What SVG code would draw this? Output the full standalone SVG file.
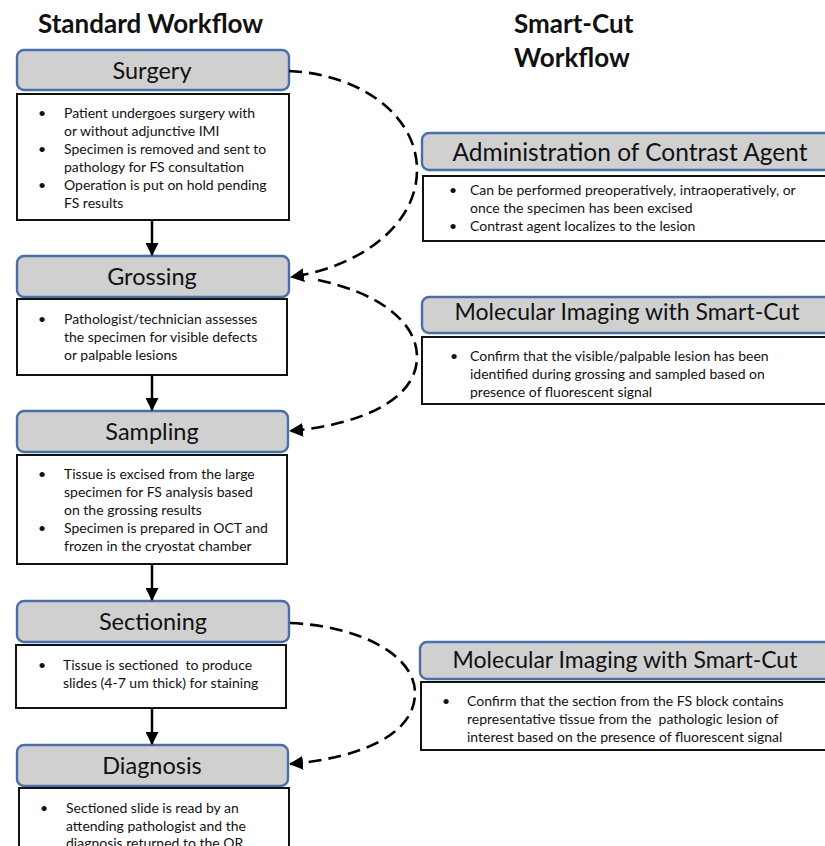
<svg xmlns="http://www.w3.org/2000/svg" width="825" height="846" viewBox="0 0 825 846">
<defs>
<style>
.title{font-family:Lato,"Liberation Sans",sans-serif;font-weight:bold;font-size:26px;fill:#111}
.hdr{fill:#d0d0d0;stroke:#4a6ea9;stroke-width:2.4}
.hdrt{font-family:Lato,"Liberation Sans",sans-serif;font-size:23.5px;fill:#111;text-anchor:middle}
.body{fill:#fff;stroke:#111;stroke-width:2}
.bt{font-family:Lato,"Liberation Sans",sans-serif;font-size:14px;fill:#111}
.flow{stroke:#000;stroke-width:2.5;fill:none}
.dash{stroke:#000;stroke-width:2.6;fill:none;stroke-dasharray:13 7}
</style>
<marker id="ah" viewBox="0 0 12 12" refX="11" refY="6" markerWidth="13" markerHeight="13" markerUnits="userSpaceOnUse" orient="auto">
<path d="M0,0 L12,6 L0,12 Z" fill="#000"/>
</marker>
<marker id="ah2" viewBox="0 0 14 14" refX="13" refY="7" markerWidth="14" markerHeight="14" markerUnits="userSpaceOnUse" orient="auto">
<path d="M0,0 L14,7 L0,14 Z" fill="#000"/>
</marker>
</defs>

<text class="title" x="38" y="33">Standard Workflow</text>
<text class="title" x="514" y="33">Smart-Cut</text>
<text class="title" x="514" y="67">Workflow</text>

<g id="surgery">
<rect class="hdr" x="17" y="50" width="272" height="40" rx="7"/>
<text class="hdrt" x="152" y="79">Surgery</text>
<rect class="body" x="17" y="94" width="272" height="126"/>
<text class="bt"><tspan x="38" y="118">•</tspan><tspan x="64" y="118">Patient undergoes surgery with</tspan><tspan x="64" y="136">or without adjunctive IMI</tspan><tspan x="38" y="154">•</tspan><tspan x="64" y="154">Specimen is removed and sent to</tspan><tspan x="64" y="172">pathology for FS consultation</tspan><tspan x="38" y="190">•</tspan><tspan x="64" y="190">Operation is put on hold pending</tspan><tspan x="64" y="208">FS results</tspan></text>
</g>

<g id="grossing">
<rect class="hdr" x="17" y="256" width="272" height="41" rx="7"/>
<text class="hdrt" x="152" y="285">Grossing</text>
<rect class="body" x="17" y="299" width="270" height="76"/>
<text class="bt"><tspan x="38" y="324">•</tspan><tspan x="64" y="324">Pathologist/technician assesses</tspan><tspan x="64" y="342">the specimen for visible defects</tspan><tspan x="64" y="360">or palpable lesions</tspan></text>
</g>

<g id="sampling">
<rect class="hdr" x="17" y="411" width="271" height="41" rx="7"/>
<text class="hdrt" x="152" y="440">Sampling</text>
<rect class="body" x="17" y="455" width="270" height="109"/>
<text class="bt"><tspan x="38" y="479">•</tspan><tspan x="64" y="479">Tissue is excised from the large</tspan><tspan x="64" y="497">specimen for FS analysis based</tspan><tspan x="64" y="515">on the grossing results</tspan><tspan x="38" y="533">•</tspan><tspan x="64" y="533">Specimen is prepared in OCT and</tspan><tspan x="64" y="551">frozen in the cryostat chamber</tspan></text>
</g>

<g id="sectioning">
<rect class="hdr" x="17" y="601" width="272" height="41" rx="7"/>
<text class="hdrt" x="153" y="630">Sectioning</text>
<rect class="body" x="16" y="645" width="270" height="63"/>
<text class="bt" xml:space="preserve"><tspan x="38" y="670">•</tspan><tspan x="63" y="670">Tissue is sectioned  to produce</tspan><tspan x="63" y="688">slides (4-7 um thick) for staining</tspan></text>
</g>

<g id="diagnosis">
<rect class="hdr" x="17" y="745" width="271" height="41" rx="7"/>
<text class="hdrt" x="152" y="774">Diagnosis</text>
<rect class="body" x="19" y="788" width="270" height="70"/>
<text class="bt"><tspan x="40" y="813">•</tspan><tspan x="66" y="813">Sectioned slide is read by an</tspan><tspan x="66" y="831">attending pathologist and the</tspan><tspan x="66" y="848">diagnosis returned to the OR</tspan></text>
</g>

<g id="contrast">
<rect class="hdr" x="422" y="133" width="420" height="37" rx="7"/>
<text class="hdrt" x="630" y="161" style="font-size:24.5px">Administration of Contrast Agent</text>
<rect class="body" x="423" y="176" width="420" height="65"/>
<text class="bt"><tspan x="449" y="195">•</tspan><tspan x="470" y="195">Can be performed preoperatively, intraoperatively, or</tspan><tspan x="470" y="213">once the specimen has been excised</tspan><tspan x="449" y="231">•</tspan><tspan x="470" y="231">Contrast agent localizes to the lesion</tspan></text>
</g>

<g id="imaging1">
<rect class="hdr" x="422" y="297" width="420" height="36" rx="7"/>
<text class="hdrt" x="627" y="320" style="font-size:23px">Molecular Imaging with Smart-Cut</text>
<rect class="body" x="422" y="337" width="420" height="67"/>
<text class="bt"><tspan x="450" y="361">•</tspan><tspan x="470" y="361">Confirm that the visible/palpable lesion has been</tspan><tspan x="470" y="379">identified during grossing and sampled based on</tspan><tspan x="470" y="397">presence of fluorescent signal</tspan></text>
</g>

<g id="imaging2">
<rect class="hdr" x="420" y="642" width="420" height="37" rx="7"/>
<text class="hdrt" x="625" y="668" style="font-size:23px">Molecular Imaging with Smart-Cut</text>
<rect class="body" x="421" y="682" width="420" height="68"/>
<text class="bt" xml:space="preserve"><tspan x="442" y="706">•</tspan><tspan x="467" y="706">Confirm that the section from the FS block contains</tspan><tspan x="467" y="724">representative tissue from the  pathologic lesion of</tspan><tspan x="467" y="742">interest based on the presence of fluorescent signal</tspan></text>
</g>

<g id="connectors">
<line class="flow" x1="152" y1="220" x2="152" y2="255" marker-end="url(#ah)"/>
<line class="flow" x1="152" y1="375" x2="152" y2="410" marker-end="url(#ah)"/>
<line class="flow" x1="152" y1="564" x2="152" y2="600" marker-end="url(#ah)"/>
<line class="flow" x1="152" y1="708" x2="152" y2="744" marker-end="url(#ah)"/>
<path class="dash" d="M289,71 C360,74 417,115 417,170 C417,228 355,268 291,277" marker-end="url(#ah2)"/>
<path class="dash" d="M318,280 C375,292 417,320 417,357 C417,400 360,425 290,431" marker-end="url(#ah2)"/>
<path class="dash" d="M290,623 C360,626 415,655 415,693 C415,735 360,758 290,764" marker-end="url(#ah2)"/>
</g>
</svg>
